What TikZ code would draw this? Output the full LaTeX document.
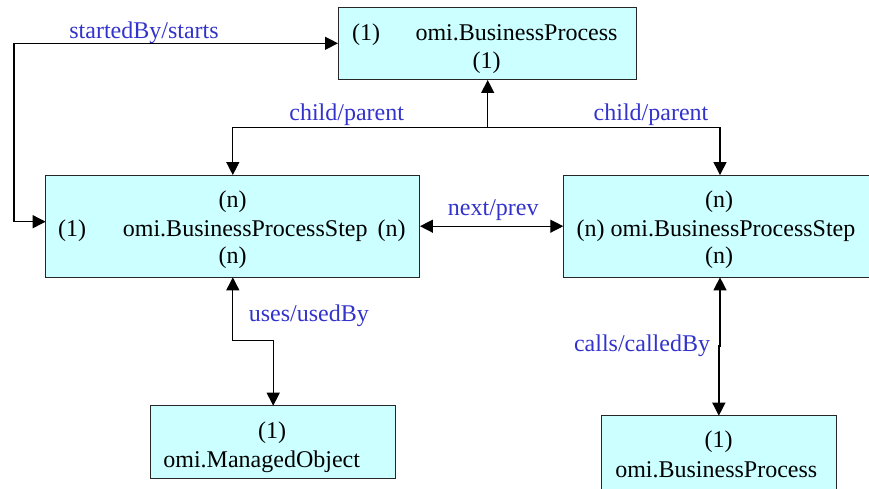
\documentclass[tikz,border=0pt]{standalone}
\usepackage{fontspec}
\setmainfont{Liberation Serif}
\usetikzlibrary{arrows.meta}
\definecolor{boxfill}{RGB}{204,255,255}
\definecolor{lblue}{RGB}{51,51,204}
\begin{document}
\begin{tikzpicture}[x=1pt,y=-1pt,
  >={Triangle[length=13pt,width=13pt]},
  box/.style={draw=black!85, line width=1pt, fill=boxfill, rectangle, inner sep=0pt, outer sep=0pt},
  txt/.style={font=\fontsize{24}{28}\selectfont, inner sep=0pt, anchor=base},
  lbl/.style={txt, text=lblue},
  conn/.style={line width=1.3pt, black}]
\useasboundingbox (0,0) rectangle (869,489);
% boxes
\node[box, minimum width=298pt, minimum height=72pt] (top) at (487,44) {};
\node[box, minimum width=374.3pt, minimum height=102.3pt] (leftbox) at (232.8,226.2) {};
\node[box, minimum width=313.4pt, minimum height=102.3pt] (rightbox) at (720,226.2) {};
\node[box, minimum width=245pt, minimum height=72.6pt] (bl) at (273.2,442) {};
\node[box, minimum width=234.3pt, minimum height=75pt] (br) at (718.85,453.2) {};
% box texts
\node[txt] (t1) at (366,40.8) {(1)};
\node[txt] (t2) at (516.5,40.8) {omi.BusinessProcess};
\node[txt] (t3) at (486.7,68.6) {(1)};
\node[txt] (l1) at (232.5,207) {(n)};
\node[txt] (l2) at (72,236) {(1)};
\node[txt, anchor=base west] (l3) at (122.7,236) {omi.BusinessProcessStep};
\node[txt] (l4) at (391.5,236) {(n)};
\node[txt] (l5) at (232.5,263.5) {(n)};
\node[txt] (r1) at (719,207) {(n)};
\node[txt] (r2) at (716,236) {(n) omi.BusinessProcessStep};
\node[txt] (r3) at (719,263.5) {(n)};
\node[txt] (b1) at (272,438.5) {(1)};
\node[txt] (b2) at (261.7,467) {omi.ManagedObject};
\node[txt] (c1) at (718.5,447.7) {(1)};
\node[txt] (c2) at (716.3,477.7) {omi.BusinessProcess};
% connectors
\coordinate (sbc) at (14,43.3);
\draw[conn,<->] (top.west |- sbc) -- (sbc) |- ([yshift=4.5pt]leftbox.west);
\coordinate (cp) at (487.7,127.3);
\draw[conn,->] (cp) -- (top.south -| cp);
\draw[conn,<->] (leftbox.north) |- (cp) -| (rightbox.north);
\draw[conn,<->] (leftbox.east) -- (rightbox.west);
\coordinate (ujog) at (273.2,340.7);
\draw[conn,<->] (leftbox.south) |- (ujog) -- (bl.north);
\coordinate (cjog) at (718.85,346);
\draw[conn,<->] (rightbox.south) |- (cjog) -- (br.north);
% labels
\node[lbl] (lsb) at (144,38.3) {startedBy/starts};
\node[lbl] (lcp1) at (346.7,120.5) {child/parent};
\node[lbl] (lcp2) at (651,120.5) {child/parent};
\node[lbl] (lnp) at (493.3,215) {next/prev};
\node[lbl] (luu) at (308.8,321.7) {uses/usedBy};
\node[lbl] (lcc) at (642,351.7) {calls/calledBy};
\end{tikzpicture}
\end{document}
